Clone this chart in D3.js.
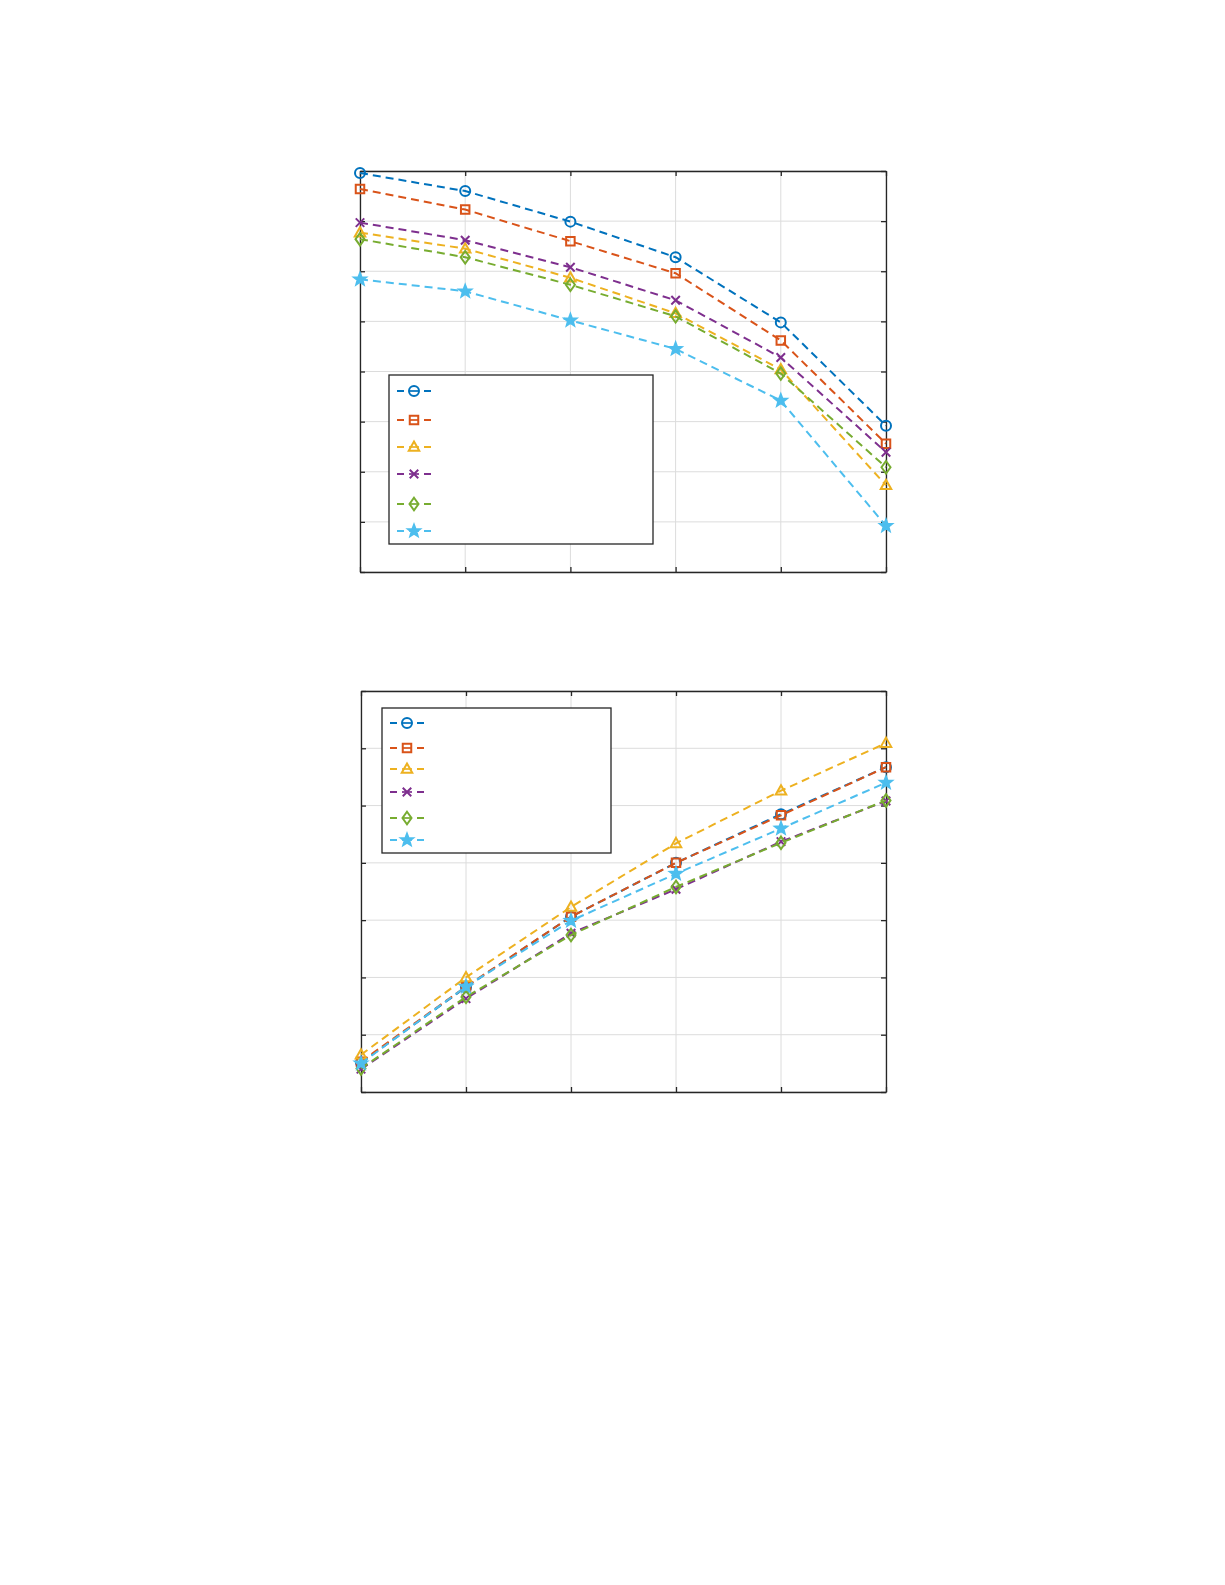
<!DOCTYPE html>
<html>
<head>
<meta charset="utf-8">
<script src="https://cdn.jsdelivr.net/npm/d3@7"></script>
<style>
  body { margin: 0; background: #fff; overflow: hidden; }
  svg { display: block; font-family: 'Liberation Sans', Arial, sans-serif; }
</style>
</head>
<body>
<script>
// x positions shared by both panels
const xValues = [1, 2, 3, 4, 5, 6]
const topYTicks = [0, 1, 2, 3, 4, 5, 6, 7, 8]
const bottomYTicks = [0, 1, 2, 3, 4, 5, 6, 7]

// marker / colour per series (MATLAB default order)
const markers = ['circle', 'square', 'triangle', 'x', 'diamond', 'star']
const colors = ['#0072BD', '#D95319', '#EDB120', '#7E2F8E', '#77AC30', '#4DBEEE']

// upper panel values
const topCircle   = [7.96, 7.60, 6.99, 6.28, 4.98, 2.92]
const topSquare   = [7.64, 7.23, 6.60, 5.96, 4.62, 2.56]
const topTriangle = [6.77, 6.45, 5.87, 5.16, 4.04, 1.73]
const topCross    = [6.97, 6.62, 6.08, 5.42, 4.28, 2.39]
const topDiamond  = [6.64, 6.28, 5.73, 5.10, 3.96, 2.09]
const topStar     = [5.84, 5.60, 5.02, 4.45, 3.42, 0.92]

// lower panel values
const botCircle   = [0.51, 1.83, 3.06, 4.00, 4.85, 5.67]
const botSquare   = [0.53, 1.84, 3.06, 4.00, 4.83, 5.67]
const botTriangle = [0.65, 2.00, 3.23, 4.34, 5.26, 6.09]
const botCross    = [0.40, 1.63, 2.77, 3.54, 4.37, 5.08]
const botDiamond  = [0.41, 1.66, 2.74, 3.58, 4.35, 5.09]
const botStar     = [0.50, 1.84, 2.99, 3.81, 4.60, 5.40]

const panels = [
  { left: 360, right: 886, top: 171, bottom: 572, yMax: 8, yTicks: topYTicks,
    series: [topCircle, topSquare, topTriangle, topCross, topDiamond, topStar],
    legend: { x: 389, y: 375, w: 264, h: 169, rows: [391, 420, 447, 474, 504, 531] } },
  { left: 361, right: 886, top: 691, bottom: 1092, yMax: 7, yTicks: bottomYTicks,
    series: [botCircle, botSquare, botTriangle, botCross, botDiamond, botStar],
    legend: { x: 382, y: 708, w: 229, h: 145, rows: [723, 748, 769, 792, 818, 840] } }
]

const svg = d3.select('body').append('svg')
  .attr('width', 1225)
  .attr('height', 1585)

svg.append('rect').attr('width', 1225).attr('height', 1585).attr('fill', '#fff')

function markerPath(type, s) {
  const p = d3.path()
  if (type === 'circle') {
    p.moveTo(s, 0); p.arc(0, 0, s, 0, 2 * Math.PI)
  } else if (type === 'square') {
    p.rect(-s * 0.85, -s * 0.85, s * 1.7, s * 1.7)
  } else if (type === 'triangle') {
    p.moveTo(0, -s * 1.1); p.lineTo(s * 1.05, s * 0.75); p.lineTo(-s * 1.05, s * 0.75); p.closePath()
  } else if (type === 'x') {
    p.moveTo(-s * 0.85, -s * 0.85); p.lineTo(s * 0.85, s * 0.85)
    p.moveTo(s * 0.85, -s * 0.85); p.lineTo(-s * 0.85, s * 0.85)
  } else if (type === 'diamond') {
    p.moveTo(0, -s * 1.25); p.lineTo(s * 0.9, 0); p.lineTo(0, s * 1.25); p.lineTo(-s * 0.9, 0); p.closePath()
  } else if (type === 'star') {
    const R = s * 1.25, r = R * 0.42
    for (let i = 0; i < 10; i++) {
      const a = -Math.PI / 2 + i * Math.PI / 5
      const rr = i % 2 === 0 ? R : r
      if (i === 0) p.moveTo(rr * Math.cos(a), rr * Math.sin(a))
      else p.lineTo(rr * Math.cos(a), rr * Math.sin(a))
    }
    p.closePath()
  }
  return p.toString()
}

function drawMarker(g, type, color, x, y, s) {
  g.append('path')
    .attr('d', markerPath(type, s))
    .attr('transform', 'translate(' + x + ',' + y + ')')
    .attr('fill', type === 'star' ? color : 'none')
    .attr('stroke', color)
    .attr('stroke-width', 2)
    .attr('stroke-linejoin', 'miter')
}

panels.forEach(function (pn) {
  const x = d3.scaleLinear().domain([1, 6]).range([pn.left, pn.right])
  const y = d3.scaleLinear().domain([0, pn.yMax]).range([pn.bottom, pn.top])
  const g = svg.append('g')

  // grid
  g.append('g').selectAll('line.gx')
    .data(xValues).enter().append('line')
    .attr('x1', d => x(d)).attr('x2', d => x(d))
    .attr('y1', pn.top).attr('y2', pn.bottom)
    .attr('stroke', '#dcdcdc').attr('stroke-width', 1)
  g.append('g').selectAll('line.gy')
    .data(pn.yTicks).enter().append('line')
    .attr('x1', pn.left).attr('x2', pn.right)
    .attr('y1', d => y(d)).attr('y2', d => y(d))
    .attr('stroke', '#dcdcdc').attr('stroke-width', 1)

  // axes, ticks pointing inward, no labels
  const axes = [
    [d3.axisBottom(x).tickValues(xValues), 'translate(0,' + pn.bottom + ')'],
    [d3.axisTop(x).tickValues(xValues), 'translate(0,' + pn.top + ')'],
    [d3.axisLeft(y).tickValues(pn.yTicks), 'translate(' + pn.left + ',0)'],
    [d3.axisRight(y).tickValues(pn.yTicks), 'translate(' + pn.right + ',0)']
  ]
  axes.forEach(function (a) {
    const ax = g.append('g')
      .attr('transform', a[1])
      .call(a[0].tickSizeInner(-5).tickSizeOuter(0).tickFormat(''))
    ax.selectAll('path, line').attr('stroke', '#262626').attr('stroke-width', 1.3)
  })

  // series
  const line = d3.line().x((d, i) => x(xValues[i])).y(d => y(d))
  pn.series.forEach(function (vals, k) {
    g.append('path')
      .datum(vals)
      .attr('d', line)
      .attr('fill', 'none')
      .attr('stroke', colors[k])
      .attr('stroke-width', 2)
      .attr('stroke-dasharray', '8,5')
    vals.forEach(function (v, i) {
      drawMarker(g, markers[k], colors[k], x(xValues[i]), y(v), 5)
    })
  })

  // legend (no text labels in the source)
  const lg = pn.legend
  g.append('rect')
    .attr('x', lg.x).attr('y', lg.y).attr('width', lg.w).attr('height', lg.h)
    .attr('fill', '#fff').attr('stroke', '#262626').attr('stroke-width', 1.3)
  lg.rows.forEach(function (ry, k) {
    const cx = lg.x + 25
    ;[[cx - 17, cx - 10], [cx + 10, cx + 17]].forEach(function (seg) {
      g.append('line')
        .attr('x1', seg[0]).attr('x2', seg[1]).attr('y1', ry).attr('y2', ry)
        .attr('stroke', colors[k]).attr('stroke-width', 2)
    })
    g.append('line')
      .attr('x1', cx - 5).attr('x2', cx + 5).attr('y1', ry).attr('y2', ry)
      .attr('stroke', colors[k]).attr('stroke-width', 1.7)
    drawMarker(g, markers[k], colors[k], cx, ry, 5)
  })
})
</script>
</body>
</html>
